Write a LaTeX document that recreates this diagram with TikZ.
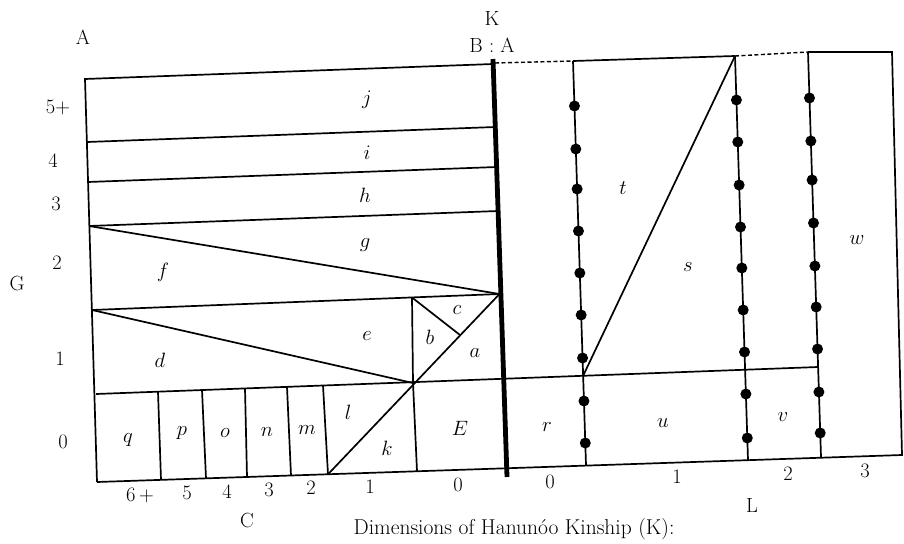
\documentclass[tikz,border=0pt]{standalone}
\usetikzlibrary{calc}
\begin{document}
\begin{tikzpicture}[x=1pt,y=-1pt,
  ln/.style={line width=1.7pt},
  thk/.style={line width=4.8pt},
  dsh/.style={line width=1.4pt,dash pattern=on 4pt off 2.5pt},
  lab/.style={inner sep=0pt,font=\fontsize{20.5}{24}\selectfont},
  dotn/.style={circle,fill=black,inner sep=0pt,minimum size=11pt}]
\useasboundingbox (0,0) rectangle (904,543);
% ---- frame coordinates ----
\coordinate (TL) at (85,79);
\coordinate (BL) at (97,482);
\coordinate (BR) at (902,455);
\coordinate (TR) at (892,52);
\coordinate (K1) at (493,59);
\coordinate (K2) at (507,477);
\coordinate (KT) at (493.2,64);
% rows on left
\coordinate (jl) at (87,142);  \coordinate (jr) at (495.3,127);
\coordinate (il) at (88,182);  \coordinate (ir) at (496.6,167);
\coordinate (hl) at (89,226);  \coordinate (hr) at (498.1,211);
\coordinate (AP) at (499.5,294);
\coordinate (el) at (92,310);
\coordinate (V1) at (412,297.5);
\coordinate (V2) at (413,383);
\coordinate (V3) at (417,471.3);
\coordinate (CB) at (460,335);
\coordinate (DG) at (328,474.3);
\coordinate (R0l) at (96,394);
\coordinate (R0r) at (818,367);
% column dividers row 0
\coordinate (c1t) at (158,391.7); \coordinate (c1b) at (161,479.9);
\coordinate (c2t) at (202,390.0); \coordinate (c2b) at (206,478.3);
\coordinate (c3t) at (245,388.4); \coordinate (c3b) at (247,477.0);
\coordinate (c4t) at (287,386.9); \coordinate (c4b) at (291,475.5);
\coordinate (c5t) at (323,385.5);
% right part
\coordinate (KD) at (495,63);
\coordinate (L1t) at (573,61);  \coordinate (L1b) at (586,465);
\coordinate (L2t) at (735,56);  \coordinate (L2b) at (748,460);
\coordinate (L3t) at (808,52);  \coordinate (L3b) at (821,457);
\coordinate (TS) at (583,376);

% ---- left frame ----
\draw[ln] (BL) -- (TL) -- (KT);
\draw[ln] (BL) -- (BR) -- (TR) -- (L3t);
\draw[ln] (jl) -- (jr);
\draw[ln] (il) -- (ir);
\draw[ln] (hl) -- (hr);
\draw[ln] (hl) -- (AP);
\draw[ln] (el) -- (AP);
\draw[ln] (el) -- (V2);
\draw[ln] (V1) -- (V2) -- (V3);
\draw[ln] (DG) -- (AP);
\draw[ln] (V1) -- (CB);
\draw[ln] (R0l) -- (R0r);
\draw[ln] (c1t) -- (c1b);
\draw[ln] (c2t) -- (c2b);
\draw[ln] (c3t) -- (c3b);
\draw[ln] (c4t) -- (c4b);
\draw[ln] (c5t) -- (DG);
% ---- thick divider ----
\draw[thk] (K1) -- (K2);
% ---- right top ----
\draw[dsh] (KD) -- (L1t);
\draw[ln] (L1t) -- (L2t);
\draw[dsh] (L2t) -- (L3t);
\draw[ln] (L1t) -- (L1b);
\draw[ln] (L2t) -- (L2b);
\draw[ln] (L3t) -- (L3b);
\draw[ln] (L2t) -- (TS);
% dots
\foreach \y [count=\i] in {106,149,189,231,273,315,358,401,443}
  \node[dotn] (da\i) at ($(L1t)!{(\y-61)/404}!(L1b)$) {};
\foreach \y [count=\i] in {100,142,185,227,268,310,352,394,438}
  \node[dotn] (db\i) at ($(L2t)!{(\y-56)/404}!(L2b)$) {};
\foreach \y [count=\i] in {98,141,180,223,266,307,349,392,433}
  \node[dotn] (dc\i) at ($(L3t)!{(\y-52)/405}!(L3b)$) {};

% ---- labels ----
\node[lab] (lA) at (83,37) {A};
\node[lab] (lK) at (492,18) {K};
\node[lab] (lBA) at (492,45) {B : A};
\node[lab] (g5) at (58,107) {5+};
\node[lab] (g4) at (53,161) {4};
\node[lab] (g3) at (56,204) {3};
\node[lab] (g2) at (57,263) {2};
\node[lab] (gG) at (17,283) {G};
\node[lab] (g1) at (60,359) {1};
\node[lab] (g0) at (63,442) {0};
\node[lab] (rj) at (367,100) {$j$};
\node[lab] (ri) at (367,153) {$i$};
\node[lab] (rh) at (365,195) {$h$};
\node[lab] (rg) at (365,245) {$g$};
\node[lab] (rf) at (163,272) {$f$};
\node[lab] (re) at (367,336) {$e$};
\node[lab] (rd) at (160,360) {$d$};
\node[lab] (rc) at (457,310) {$c$};
\node[lab] (rb) at (430,337) {$b$};
\node[lab] (ra) at (475,353) {$a$};
\node[lab] (rE) at (460,428) {$E$};
\node[lab] (rl) at (348,412) {$l$};
\node[lab] (rk) at (387,448) {$k$};
\node[lab] (rm) at (307,430) {$m$};
\node[lab] (rn) at (267,432) {$n$};
\node[lab] (ro) at (225,433) {$o$};
\node[lab] (rp) at (182,433) {$p$};
\node[lab] (rq) at (128,440) {$q$};
\node[lab] (rt) at (623,188) {$t$};
\node[lab] (rs) at (688,267) {$s$};
\node[lab] (rw) at (857,240) {$w$};
\node[lab] (rr) at (547,427) {$r$};
\node[lab] (ru) at (663,423) {$u$};
\node[lab] (rv) at (783,417) {$v$};
\node[lab] (x6) at (140,495) {6\,+};
\node[lab] (x5) at (187,493) {5};
\node[lab] (x4) at (227,492) {4};
\node[lab] (x3) at (269,490) {3};
\node[lab] (x2) at (311,488) {2};
\node[lab] (x1) at (370,487) {1};
\node[lab] (x0) at (458,485) {0};
\node[lab] (xC) at (247,520) {C};
\node[lab] (y0) at (550,482) {0};
\node[lab] (y1) at (677,477) {1};
\node[lab] (y2) at (788,474) {2};
\node[lab] (y3) at (865,471) {3};
\node[lab] (yL) at (752,505) {L};
\node[lab,font=\fontsize{21.5}{24}\selectfont] (title) at (514,529) {Dimensions of Hanun\'oo Kinship (K):};
\end{tikzpicture}
\end{document}
